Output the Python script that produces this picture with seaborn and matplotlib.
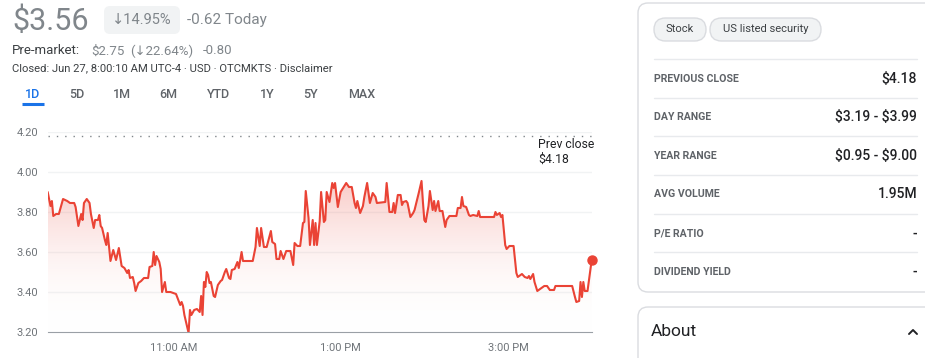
import numpy as np
import pandas as pd
import matplotlib
matplotlib.use('Agg')
import matplotlib.pyplot as plt
import seaborn as sns
from matplotlib.patches import FancyBboxPatch
from matplotlib.colors import LinearSegmentedColormap

# intraday quotes (OTCMKTS, Jun 27)
times = ['09:30', '09:32', '09:33', '09:34', '09:36', '09:38', '09:41', '09:44', '09:46', '09:49',
         '09:50', '09:52', '09:54', '09:55', '09:56', '09:58', '10:00', '10:01', '10:03', '10:04',
         '10:06', '10:07', '10:08', '10:09', '10:11', '10:12', '10:13', '10:15', '10:17', '10:19',
         '10:21', '10:23', '10:25', '10:27', '10:28', '10:29', '10:31', '10:32', '10:33', '10:35',
         '10:37', '10:39', '10:42', '10:43', '10:45', '10:46', '10:47', '10:48', '10:50', '10:51',
         '10:52', '10:54', '10:55', '10:58', '11:00', '11:02', '11:05', '11:06', '11:07', '11:08',
         '11:11', '11:12', '11:13', '11:15', '11:17', '11:19', '11:20', '11:21', '11:22', '11:23',
         '11:24', '11:25', '11:26', '11:27', '11:29', '11:30', '11:32', '11:34', '11:35', '11:37',
         '11:38', '11:40', '11:41', '11:42', '11:44', '11:46', '11:47', '11:48', '11:49', '11:50',
         '11:57', '11:59', '12:00', '12:02', '12:03', '12:05', '12:07', '12:10', '12:11', '12:13',
         '12:14', '12:16', '12:17', '12:19', '12:21', '12:24', '12:26', '12:27', '12:29', '12:31',
         '12:33', '12:34', '12:35', '12:37', '12:38', '12:40', '12:41', '12:42', '12:43', '12:45',
         '12:46', '12:48', '12:49', '12:50', '12:52', '12:54', '12:55', '12:56', '12:58', '13:00',
         '13:04', '13:06', '13:08', '13:10', '13:11', '13:12', '13:14', '13:16', '13:17', '13:19',
         '13:21', '13:23', '13:25', '13:26', '13:32', '13:33', '13:35', '13:37', '13:38', '13:39',
         '13:41', '13:43', '13:44', '13:45', '13:47', '13:48', '13:50', '13:52', '13:53', '13:56',
         '13:58', '13:59', '14:00', '14:01', '14:03', '14:04', '14:06', '14:07', '14:08', '14:10',
         '14:11', '14:13', '14:15', '14:16', '14:18', '14:21', '14:23', '14:24', '14:26', '14:27',
         '14:28', '14:30', '14:32', '14:33', '14:35', '14:38', '14:39', '14:40', '14:50', '14:51',
         '14:52', '14:54', '14:55', '14:56', '14:58', '14:59', '15:01', '15:04', '15:06', '15:07',
         '15:10', '15:12', '15:14', '15:15', '15:16', '15:18', '15:19', '15:21', '15:23', '15:26',
         '15:28', '15:30', '15:33', '15:34', '15:46', '15:48', '15:49', '15:51', '15:52', '15:53',
         '15:54', '15:55', '15:57', '16:00']
prices = [3.90, 3.83, 3.855, 3.78, 3.79, 3.79, 3.865, 3.855, 3.845, 3.845,
          3.825, 3.73, 3.79, 3.76, 3.845, 3.865, 3.845, 3.79, 3.72, 3.76,
          3.76, 3.785, 3.73, 3.72, 3.66, 3.635, 3.695, 3.555, 3.61, 3.56,
          3.62, 3.53, 3.52, 3.495, 3.51, 3.47, 3.475, 3.445, 3.405, 3.445,
          3.455, 3.47, 3.47, 3.525, 3.53, 3.60, 3.535, 3.58, 3.55, 3.515,
          3.40, 3.45, 3.40, 3.40, 3.395, 3.39, 3.335, 3.35, 3.33, 3.285,
          3.195, 3.31, 3.285, 3.31, 3.315, 3.30, 3.38, 3.285, 3.45, 3.425,
          3.50, 3.485, 3.445, 3.45, 3.38, 3.375, 3.435, 3.455, 3.46, 3.50,
          3.515, 3.47, 3.465, 3.51, 3.515, 3.55, 3.52, 3.56, 3.60, 3.555,
          3.555, 3.625, 3.72, 3.63, 3.72, 3.625, 3.625, 3.705, 3.65, 3.64,
          3.565, 3.565, 3.605, 3.565, 3.605, 3.605, 3.535, 3.645, 3.63, 3.63,
          3.745, 3.75, 3.905, 3.77, 3.635, 3.76, 3.635, 3.745, 3.635, 3.755,
          3.90, 3.75, 3.76, 3.90, 3.85, 3.945, 3.92, 3.945, 3.825, 3.90,
          3.945, 3.925, 3.925, 3.845, 3.82, 3.855, 3.795, 3.83, 3.875, 3.945,
          3.845, 3.895, 3.875, 3.845, 3.85, 3.945, 3.80, 3.80, 3.845, 3.795,
          3.885, 3.885, 3.835, 3.85, 3.855, 3.845, 3.775, 3.795, 3.81, 3.895,
          3.955, 3.85, 3.76, 3.75, 3.83, 3.905, 3.81, 3.855, 3.805, 3.855,
          3.805, 3.805, 3.725, 3.76, 3.78, 3.78, 3.78, 3.82, 3.82, 3.875,
          3.83, 3.825, 3.785, 3.78, 3.785, 3.78, 3.805, 3.775, 3.775, 3.80,
          3.785, 3.795, 3.775, 3.785, 3.635, 3.615, 3.63, 3.63, 3.495, 3.475,
          3.49, 3.475, 3.47, 3.48, 3.465, 3.49, 3.45, 3.405, 3.415, 3.43,
          3.43, 3.41, 3.41, 3.43, 3.43, 3.375, 3.35, 3.355, 3.45, 3.375,
          3.45, 3.405, 3.405, 3.56]
prev_close = 4.18
y_ticks = [3.20, 3.40, 3.60, 3.80, 4.00, 4.20]
x_ticks = [11, 13, 15]
x_labels = ['11:00 AM', '1:00 PM', '3:00 PM']

tabs = ['1D', '5D', '1M', '6M', 'YTD', '1Y', '5Y', 'MAX']
stat_names = ['PREVIOUS CLOSE', 'DAY RANGE', 'YEAR RANGE', 'AVG VOLUME', 'P/E RATIO', 'DIVIDEND YIELD']
stat_values = ['$4.18', '$3.19 - $3.99', '$0.95 - $9.00', '1.95M', '-', '-']

sns.set_style('white')
plt.rcParams['font.family'] = ['Roboto', 'DejaVu Sans']
plt.rcParams['text.parse_math'] = False

red = '#ea4335'
df = pd.DataFrame({'time': pd.to_datetime(times, format='%H:%M'), 'price': prices})
df['hour'] = df['time'].dt.hour + df['time'].dt.minute / 60

fig = plt.figure(figsize=(9.25, 3.58), dpi=100)

# page overlay in pixel coordinates
page = fig.add_axes([0, 0, 1, 1])
page.set_xlim(0, 925)
page.set_ylim(358, 0)
page.axis('off')

ax = fig.add_axes([47.7 / 925, 26 / 358, 544 / 925, 200 / 358])
sns.lineplot(data=df, x='hour', y='price', ax=ax, color=red, linewidth=1.5, zorder=4)
ax.plot(df['hour'].iloc[-1], df['price'].iloc[-1], 'o', color=red, ms=6.5, zorder=5, clip_on=False)

# gradient fill under the line
fade = LinearSegmentedColormap.from_list('fade', [(1, 1, 1, 0), (0.918, 0.263, 0.208, 0.27)])
grad = np.linspace(0, 1, 256).reshape(-1, 1)
img = ax.imshow(grad, extent=[9.5, 16, 3.2, 3.95], origin='lower', cmap=fade,
                aspect='auto', zorder=2)
area = ax.fill_between(df['hour'], df['price'], 3.2, color='none')
img.set_clip_path(area.get_paths()[0], transform=ax.transData)

for v in y_ticks[1:]:
    ax.axhline(v, color='#f1f3f4', lw=1, zorder=1)
ax.axhline(prev_close, color='#80868b', lw=1, linestyle=(0, (1, 5)), zorder=3)
ax.text(15.36, 4.10, 'Prev close\n$' + f'{prev_close:.2f}', fontsize=8.8, color='#202124',
        ha='left', va='center', linespacing=1.15)

ax.set_xlim(9.5, 16)
ax.set_ylim(3.2, 4.2)
ax.set_yticks(y_ticks)
ax.set_yticklabels([f'{v:.2f}' for v in y_ticks])
ax.set_xticks(x_ticks)
ax.set_xticklabels(x_labels)
ax.set_xlabel('')
ax.set_ylabel('')
for s in ['top', 'right', 'left']:
    ax.spines[s].set_visible(False)
ax.spines['bottom'].set_color('#9aa0a6')
ax.tick_params(axis='y', length=0, pad=7, labelsize=8, labelcolor='#70757a')
ax.tick_params(axis='x', length=3, width=1.5, color='#70757a', pad=5,
               labelsize=8, labelcolor='#70757a', direction='out')

# header
page.text(12, 21, '$3.56', fontsize=22, color='#80868b', va='center')
page.add_patch(FancyBboxPatch((104, 6), 76, 28, boxstyle='round,pad=0,rounding_size=6',
                              fc='#f1f3f4', ec='none'))
page.text(142, 20, '↓14.95%', fontsize=10.5, color='#80868b', ha='center', va='center')
page.text(187, 20, '-0.62 Today', fontsize=11, color='#80868b', va='center')
page.text(12, 51, 'Pre-market:', fontsize=9.5, color='#3c4043', va='center')
page.text(91, 51, '$2.75', fontsize=9.5, color='#80868b', va='center')
page.text(130, 51, '(↓22.64%)', fontsize=9.5, color='#80868b', va='center')
page.text(203, 51, '-0.80', fontsize=9.5, color='#80868b', va='center')
page.text(12, 68, 'Closed: Jun 27, 8:00:10 AM UTC-4 · USD · OTCMKTS · Disclaimer',
          fontsize=8.1, color='#3c4043', va='center')
tab_x = [33, 77, 122, 168, 219, 267, 311, 362]
for name, x in zip(tabs, tab_x):
    page.text(x, 94, name, fontsize=9, fontweight='medium', ha='center', va='center',
              color='#1a73e8' if name == '1D' else '#5f6368')
page.plot([22, 44], [103.5, 103.5], color='#1a73e8', lw=2.2, solid_capstyle='butt')

# side card
page.add_patch(FancyBboxPatch((638, 3), 320, 289, boxstyle='round,pad=0,rounding_size=10',
                              fc='white', ec='#dadce0', lw=1))
page.add_patch(FancyBboxPatch((654, 18), 52, 23, boxstyle='round,pad=0,rounding_size=11.5',
                              fc='#f1f3f4', ec='#dadce0', lw=1))
page.text(680, 29.5, 'Stock', fontsize=8, color='#3c4043', ha='center', va='center')
page.add_patch(FancyBboxPatch((710, 18), 111, 23, boxstyle='round,pad=0,rounding_size=11.5',
                              fc='#f1f3f4', ec='#dadce0', lw=1))
page.text(765.5, 29.5, 'US listed security', fontsize=8, color='#3c4043', ha='center', va='center')
row_y = [78.7, 117.3, 155.7, 194.3, 233.3, 271.7]
for name, val, y in zip(stat_names, stat_values, row_y):
    page.plot([654, 917], [y - 19.3, y - 19.3], color='#e8eaed', lw=1)
    page.text(654, y, name, fontsize=7.6, fontweight='bold', color='#5f6368', va='center')
    page.text(917, y, val, fontsize=10, fontweight='medium', color='#202124', ha='right', va='center')

page.add_patch(FancyBboxPatch((638, 307), 320, 80, boxstyle='round,pad=0,rounding_size=10',
                              fc='white', ec='#dadce0', lw=1))
page.text(651, 332, 'About', fontsize=12.5, color='#202124', va='center')
page.plot([909, 913, 917], [334, 330, 334], color='#202124', lw=1.4)

fig.savefig('out.png', dpi=100)
